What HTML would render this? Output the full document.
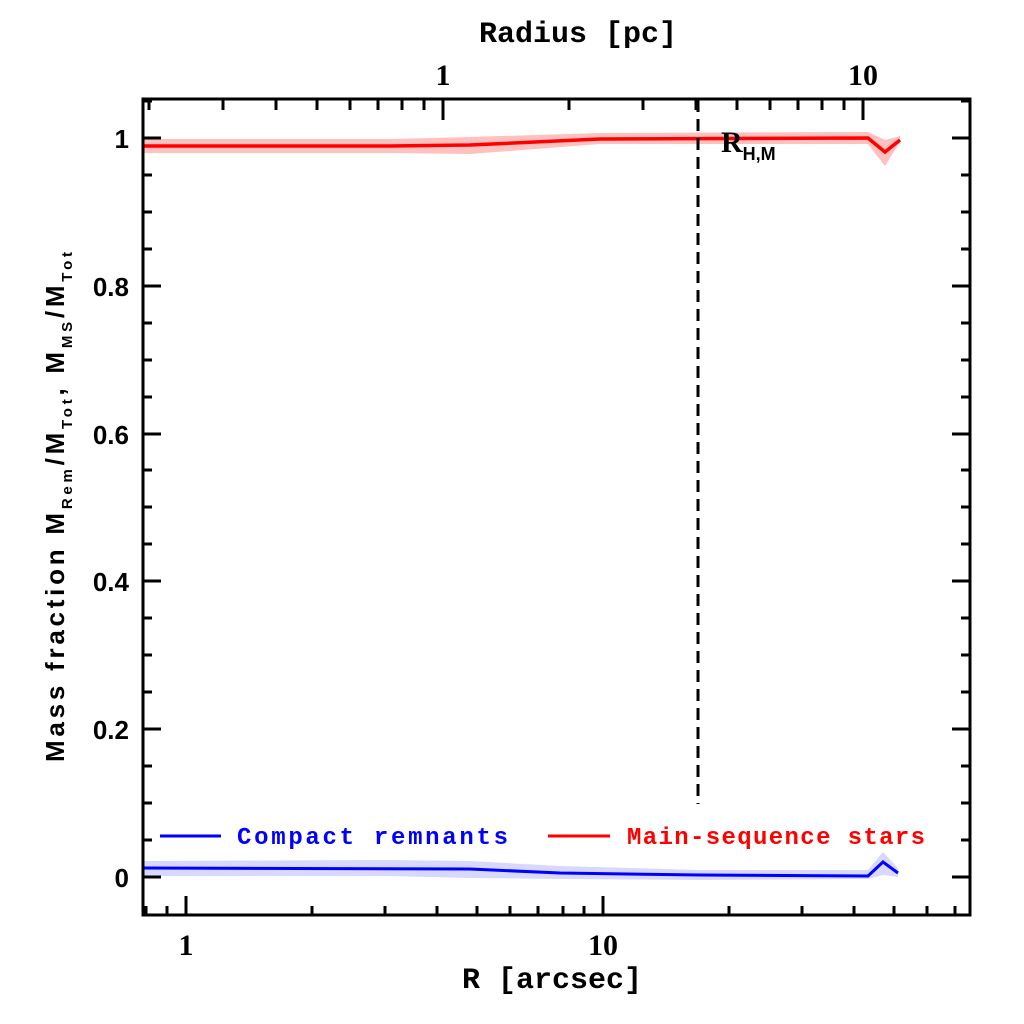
<!DOCTYPE html>
<html><head><meta charset="utf-8"><style>
html,body{margin:0;padding:0;background:#fff;}
svg{display:block;}
.mono{font-family:"Liberation Mono",monospace;font-weight:bold;}
.sans{font-family:"Liberation Sans",sans-serif;font-weight:bold;}
.serif{font-family:"Liberation Serif",serif;font-weight:bold;}
</style></head><body>
<svg width="1024" height="1024" viewBox="0 0 1024 1024" xmlns="http://www.w3.org/2000/svg">
<rect width="1024" height="1024" fill="#fff"/>
<polygon points="143,139 390,139 470,137 600,133 868,132 885,140 900,136 900,142 885,166 868,144 600,144 470,154 390,153 143,153" fill="#ffc0c0"/>
<polygon points="143,861 390,860 470,861 560,866 700,870 868,870 883,852 898,868 898,877 883,875 868,879 700,880 560,879 470,878 390,876 143,876" fill="#d8d8ff"/>
<polyline points="143,146 390,146 470,145 600,139 868,138 885,152 900,140" fill="none" stroke="#ff0000" stroke-width="3.5"/>
<polyline points="143,868 470,869 560,873 700,875 868,876 883,862 898,873" fill="none" stroke="#0000ff" stroke-width="3"/>
<line x1="698" y1="100" x2="698" y2="804" stroke="#000" stroke-width="3" stroke-dasharray="12,7"/>
<rect x="143" y="99" width="827" height="816" fill="none" stroke="#000" stroke-width="3"/>
<g stroke="#000" stroke-width="3">
<line x1="186" y1="915" x2="186" y2="896"/><line x1="603" y1="915" x2="603" y2="896"/>
<line x1="146" y1="915" x2="146" y2="906"/><line x1="167" y1="915" x2="167" y2="906"/>
<line x1="312" y1="915" x2="312" y2="906"/><line x1="385" y1="915" x2="385" y2="906"/><line x1="437" y1="915" x2="437" y2="906"/><line x1="477" y1="915" x2="477" y2="906"/><line x1="510" y1="915" x2="510" y2="906"/><line x1="538" y1="915" x2="538" y2="906"/><line x1="563" y1="915" x2="563" y2="906"/><line x1="584" y1="915" x2="584" y2="906"/>
<line x1="729" y1="915" x2="729" y2="906"/><line x1="802" y1="915" x2="802" y2="906"/><line x1="854" y1="915" x2="854" y2="906"/><line x1="894" y1="915" x2="894" y2="906"/><line x1="927" y1="915" x2="927" y2="906"/><line x1="955" y1="915" x2="955" y2="906"/>
<line x1="443" y1="99" x2="443" y2="120"/><line x1="863" y1="99" x2="863" y2="120"/>
<line x1="149" y1="99" x2="149" y2="110"/><line x1="223" y1="99" x2="223" y2="110"/><line x1="276" y1="99" x2="276" y2="110"/><line x1="317" y1="99" x2="317" y2="110"/><line x1="350" y1="99" x2="350" y2="110"/><line x1="378" y1="99" x2="378" y2="110"/><line x1="402" y1="99" x2="402" y2="110"/><line x1="424" y1="99" x2="424" y2="110"/>
<line x1="569" y1="99" x2="569" y2="110"/><line x1="643" y1="99" x2="643" y2="110"/><line x1="696" y1="99" x2="696" y2="110"/><line x1="737" y1="99" x2="737" y2="110"/><line x1="770" y1="99" x2="770" y2="110"/><line x1="798" y1="99" x2="798" y2="110"/><line x1="822" y1="99" x2="822" y2="110"/><line x1="844" y1="99" x2="844" y2="110"/>
</g>
<g stroke="#000" stroke-width="3">
<path d="M143 877h18M143 729h18M143 581h18M143 434h18M143 286h18M143 138h18
M143 840h9M143 803h9M143 766h9M143 692h9M143 655h9M143 618h9M143 544h9M143 507h9M143 470h9M143 397h9M143 360h9M143 323h9M143 249h9M143 212h9M143 175h9M143 101h9
M970 877h-18M970 729h-18M970 581h-18M970 434h-18M970 286h-18M970 138h-18
M970 840h-9M970 803h-9M970 766h-9M970 692h-9M970 655h-9M970 618h-9M970 544h-9M970 507h-9M970 470h-9M970 397h-9M970 360h-9M970 323h-9M970 249h-9M970 212h-9M970 175h-9M970 101h-9" fill="none"/>
</g>
<g class="sans" font-size="26" text-anchor="end" fill="#000">
<text x="129" y="887">0</text><text x="129" y="739">0.2</text><text x="129" y="591">0.4</text><text x="129" y="444">0.6</text><text x="129" y="296">0.8</text><text x="129" y="148">1</text>
</g>
<g class="serif" font-size="30" text-anchor="middle" fill="#000">
<text x="186" y="955">1</text><text x="603" y="955">10</text>
<text x="443" y="85">1</text><text x="863" y="85">10</text>
</g>
<text class="mono" x="578" y="42" font-size="30" text-anchor="middle">Radius [pc]</text>
<text class="mono" x="552" y="988" font-size="30" text-anchor="middle">R [arcsec]</text>
<g transform="translate(64,507) rotate(-90)">
<text class="sans" font-size="26" text-anchor="middle" textLength="510" lengthAdjust="spacing">Mass fraction   M<tspan font-size="15" dy="8">Rem</tspan><tspan dy="-8">/M</tspan><tspan font-size="15" dy="8">Tot</tspan><tspan dy="-8">,  M</tspan><tspan font-size="15" dy="8">MS</tspan><tspan dy="-8">/M</tspan><tspan font-size="15" dy="8">Tot</tspan></text>
</g>
<text class="serif" x="721" y="152" font-size="30">R<tspan font-size="18" dy="8" class="sans">H,M</tspan></text>
<line x1="160" y1="836" x2="221" y2="836" stroke="#0000ff" stroke-width="3"/>
<text class="mono" x="237" y="844" font-size="24" fill="#0000ff" textLength="271">Compact remnants</text>
<line x1="548" y1="836" x2="610" y2="836" stroke="#ff0000" stroke-width="3"/>
<text class="mono" x="627" y="844" font-size="24" fill="#ff0000" textLength="298">Main-sequence stars</text>
</svg>
</body></html>
